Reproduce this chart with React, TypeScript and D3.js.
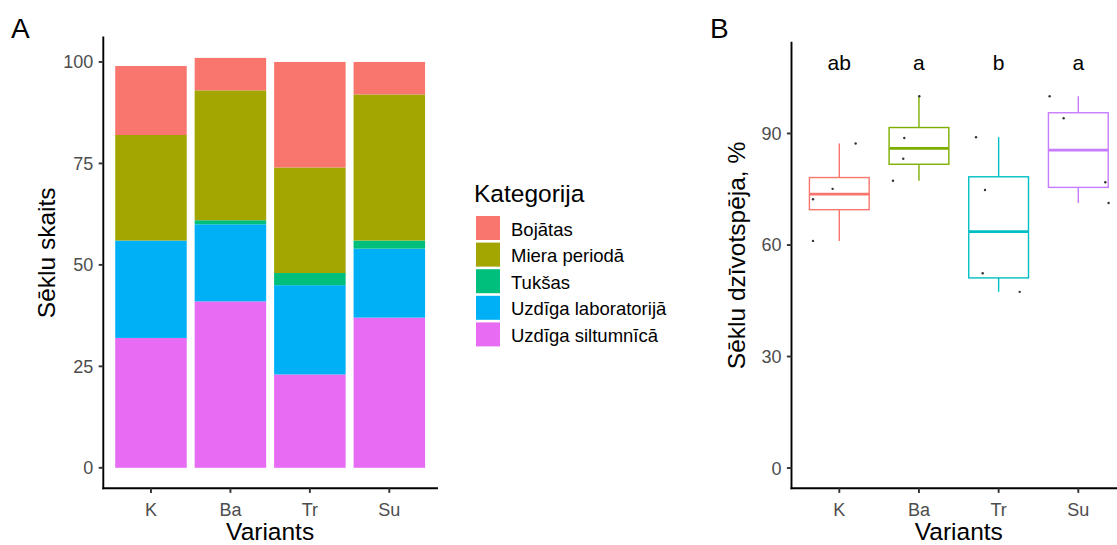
import React from "react";
import * as d3 from "d3";

// ---------- Data ----------
const variants = ["K", "Ba", "Tr", "Su"];
const kategorijas = ["Bojātas", "Miera periodā", "Tukšas", "Uzdīga laboratorijā", "Uzdīga siltumnīcā"];
const kategorijuKrasas = ["#F8766D", "#A3A500", "#00BF7D", "#00B0F6", "#E76BF3"];

const bojatas = [17, 8, 26, 8];
const mieraPerioda = [26, 32, 26, 36];
const tuksas = [0, 1, 3, 2];
const uzdigaLab = [24, 19, 22, 17];
const uzdigaSiltumn = [32, 41, 23, 37];

const yTicksA = [0, 25, 50, 75, 100];

// Panel B: germination (%) per replicate
const dzivK = [87.3, 75.1, 72.3, 61.1];
const dzivBa = [100, 88.8, 83.2, 77.3];
const dzivTr = [89.0, 74.8, 52.4, 47.4];
const dzivSu = [100, 94.1, 76.9, 71.3];
// horizontal jitter as fraction of category step
const jitK = [0.205, -0.084, -0.33, -0.33];
const jitBa = [0.004, -0.184, -0.197, -0.326];
const jitTr = [-0.284, -0.171, -0.2, 0.264];
const jitSu = [-0.36, -0.184, 0.339, 0.38];
const burti = ["ab", "a", "b", "a"];
const BURTU_Y = 109;
const variantKrasas = ["#F8766D", "#7CAE00", "#00BFC4", "#C77CFF"];
const yTicksB = [0, 30, 60, 90];

// ---------- Layout ----------
const W = 1117;
const H = 545;
const FONT = "'Liberation Sans', Arial, Helvetica, sans-serif";
const TICK_COL = "#4D4D4D";
const AXIS_W = 1.9;
const TICK_FS = 18;
const TITLE_FS = 24.5;

const bottomY = 488.3;
const A_left = 103.3, A_right = 437, A_top = 37.4;
const B_left = 791.5, B_right = 1126.1, B_top = 42.6;

export default function App() {
  // ---- Panel A ----
  const rows = variants.map((v, i) => ({
    variant: v,
    "Bojātas": bojatas[i],
    "Miera periodā": mieraPerioda[i],
    "Tukšas": tuksas[i],
    "Uzdīga laboratorijā": uzdigaLab[i],
    "Uzdīga siltumnīcā": uzdigaSiltumn[i],
  }));
  const stackKeys = [...kategorijas].reverse();
  const stacked = d3.stack<any>().keys(stackKeys)(rows);
  const totals = rows.map((r) => kategorijas.reduce((s, k) => s + (r as any)[k], 0));
  const maxA = d3.max(totals) as number;
  const xA = d3.scalePoint<string>().domain(variants).range([A_left, A_right]).padding(0.6);
  const stepA = xA.step();
  const barW = stepA * 0.9;
  const yA = d3.scaleLinear().domain([-0.05 * maxA, maxA * 1.05]).range([bottomY, A_top]);
  const colA = d3.scaleOrdinal<string, string>().domain(kategorijas).range(kategorijuKrasas);

  // ---- Panel B ----
  const dzivAll = [dzivK, dzivBa, dzivTr, dzivSu];
  const jitAll = [jitK, jitBa, jitTr, jitSu];
  const xB = d3.scalePoint<string>().domain(variants).range([B_left, B_right]).padding(0.6);
  const stepB = xB.step();
  const boxW = stepB * 0.75;
  const yB = d3.scaleLinear().domain([-0.05 * BURTU_Y, BURTU_Y * 1.05]).range([bottomY, B_top]);
  const boxes = variants.map((v, i) => {
    const vals = [...dzivAll[i]].sort(d3.ascending);
    const q1 = d3.quantile(vals, 0.25) as number;
    const med = d3.quantile(vals, 0.5) as number;
    const q3 = d3.quantile(vals, 0.75) as number;
    const iqr = q3 - q1;
    const lo = d3.min(vals.filter((d) => d >= q1 - 1.5 * iqr)) as number;
    const hi = d3.max(vals.filter((d) => d <= q3 + 1.5 * iqr)) as number;
    return { v, q1, med, q3, lo, hi, color: variantKrasas[i] };
  });

  const axisY = (scale: any, ticks: number[], left: number, top: number) => (
    <g>
      <line x1={left} x2={left} y1={top} y2={bottomY} stroke="#000" strokeWidth={AXIS_W} strokeLinecap="square" />
      {ticks.map((t) => (
        <g key={t}>
          <line x1={left - 4.6} x2={left} y1={scale(t)} y2={scale(t)} stroke="#333" strokeWidth={AXIS_W} />
          <text x={left - 10} y={scale(t)} dy="0.36em" textAnchor="end" fontSize={TICK_FS} fill={TICK_COL} fontFamily={FONT}>
            {t}
          </text>
        </g>
      ))}
    </g>
  );
  const axisX = (scale: any, left: number, right: number) => (
    <g>
      <line x1={left} x2={right} y1={bottomY} y2={bottomY} stroke="#000" strokeWidth={AXIS_W} strokeLinecap="square" />
      {variants.map((v) => (
        <g key={v}>
          <line x1={scale(v)} x2={scale(v)} y1={bottomY} y2={bottomY + 4.6} stroke="#333" strokeWidth={AXIS_W} />
          <text x={scale(v)} y={515.5} textAnchor="middle" fontSize={TICK_FS} fill={TICK_COL} fontFamily={FONT}>
            {v}
          </text>
        </g>
      ))}
      <text x={(left + right) / 2} y={539.5} textAnchor="middle" fontSize={TITLE_FS} fill="#000" fontFamily={FONT}>
        Variants
      </text>
    </g>
  );

  const legX = 476, legTop = 216, keyS = 24, keyStep = 26.6;

  return (
    <svg width={W} height={H} style={{ position: "absolute", left: 0, top: 0, background: "#fff" }} fontFamily={FONT}>
      <rect x={0} y={0} width={W} height={H} fill="#fff" />
      {/* Panel labels */}
      <text x={11} y={38} fontSize={28} fill="#000">A</text>
      <text x={710} y={38} fontSize={28} fill="#000">B</text>

      {/* Panel A bars */}
      <g>
        {stacked.map((layer) => (
          <g key={layer.key} fill={colA(layer.key)}>
            {layer.map((seg, i) =>
              seg[1] - seg[0] > 0 ? (
                <rect
                  key={i}
                  x={(xA(variants[i]) as number) - barW / 2}
                  width={barW}
                  y={yA(seg[1])}
                  height={yA(seg[0]) - yA(seg[1])}
                />
              ) : null
            )}
          </g>
        ))}
      </g>
      {axisY(yA, yTicksA, A_left, A_top)}
      {axisX(xA, A_left, A_right)}
      <text transform={`translate(55,${(A_top + bottomY) / 2 - 10}) rotate(-90)`} textAnchor="middle" fontSize={TITLE_FS} fill="#000">
        Sēklu skaits
      </text>

      {/* Legend */}
      <text x={legX - 2} y={201.7} fontSize={TITLE_FS} fill="#000">Kategorija</text>
      {kategorijas.map((k, i) => (
        <g key={k}>
          <rect x={legX} y={legTop + i * keyStep} width={keyS} height={keyS} fill={colA(k)} />
          <text x={511} y={legTop + i * keyStep + keyS / 2 + 1} dy="0.36em" fontSize={18.5} fill="#000">
            {k}
          </text>
        </g>
      ))}

      {/* Panel B */}
      <g>
        {boxes.map((b) => {
          const cx = xB(b.v) as number;
          return (
            <g key={b.v} stroke={b.color} fill="none">
              <line x1={cx} x2={cx} y1={yB(b.hi)} y2={yB(b.q3)} strokeWidth={1.4} />
              <line x1={cx} x2={cx} y1={yB(b.q1)} y2={yB(b.lo)} strokeWidth={1.4} />
              <rect x={cx - boxW / 2} width={boxW} y={yB(b.q3)} height={yB(b.q1) - yB(b.q3)} fill="#fff" strokeWidth={1.4} />
              <line x1={cx - boxW / 2} x2={cx + boxW / 2} y1={yB(b.med)} y2={yB(b.med)} strokeWidth={2.8} />
            </g>
          );
        })}
        {variants.map((v, i) =>
          dzivAll[i].map((d, j) => (
            <circle key={v + j} cx={(xB(v) as number) + jitAll[i][j] * stepB} cy={yB(d)} r={1.2} fill="#333" />
          ))
        )}
        {variants.map((v, i) => (
          <text key={v} x={xB(v)} y={yB(BURTU_Y)} dy="0.36em" textAnchor="middle" fontSize={21} fill="#000">
            {burti[i]}
          </text>
        ))}
      </g>
      {axisY(yB, yTicksB, B_left, B_top)}
      {axisX(xB, B_left, B_right)}
      <text transform={`translate(744.5,${(B_top + bottomY) / 2 - 10}) rotate(-90)`} textAnchor="middle" fontSize={TITLE_FS} fill="#000">
        Sēklu dzīvotspēja, %
      </text>
    </svg>
  );
}
